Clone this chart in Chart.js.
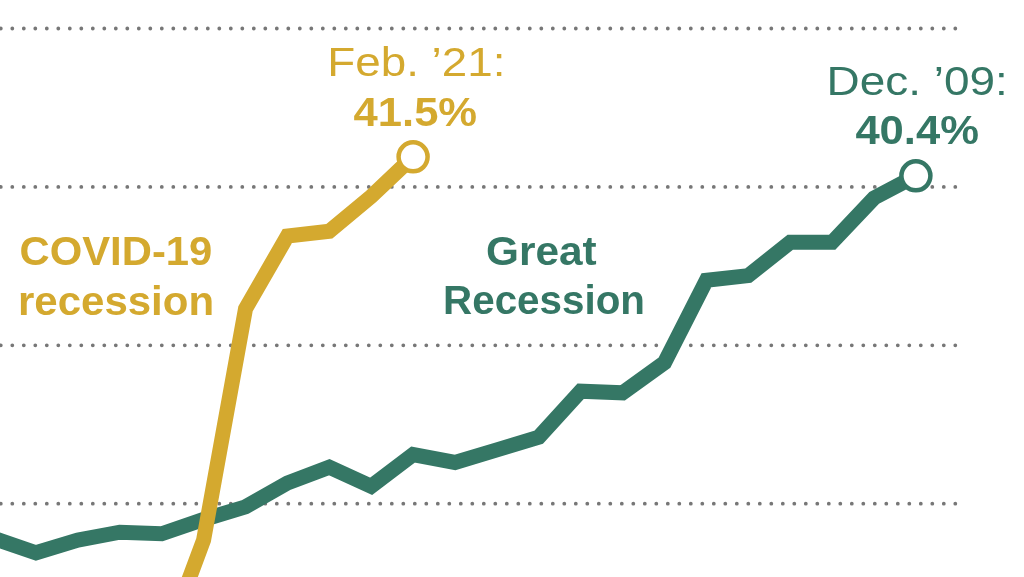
<!DOCTYPE html>
<html>
<head>
<meta charset="utf-8">
<script src="https://cdn.jsdelivr.net/npm/chart.js@4/dist/chart.umd.min.js"></script>
<style>
  html, body { margin: 0; padding: 0; background: #ffffff; }
  #wrap { width: 1024px; height: 577px; position: relative; overflow: hidden; }
</style>
</head>
<body>
<div id="wrap"><canvas id="c"></canvas></div>
<script>
// ---- Data (months since start of recession, % share) ----
const greatMonths = [2, 3, 4, 5, 6, 7, 8, 9, 10, 11, 12, 13, 14, 15, 16, 17, 18, 19, 20, 21, 22, 23, 24];
const greatValues = [17.8, 16.9, 17.7, 18.2, 18.1, 19.0, 19.8, 21.3, 22.3, 21.1, 23.1, 22.6, 23.4, 24.2, 27.1, 27.0, 28.9, 34.1, 34.4, 36.5, 36.5, 39.3, 40.7];
const covidMonths = [6, 7, 8, 9, 10, 11, 12];
const covidValues = [10.6, 17.7, 32.3, 36.9, 37.2, 39.4, 41.9];
const gridValues = [20, 30, 40, 50];
const seriesNames = ['COVID-19 recession', 'Great Recession'];
const endLabels = { covid: ['Feb. \u201921:', '41.5%'], great: ['Dec. \u201909:', '40.4%'] };

const GOLD = '#D4A92F';
const GREEN = '#357765';
const FONT = "'Liberation Sans', Arial, sans-serif";

function toPoints(xs, ys) { return xs.map((m, i) => ({ x: m, y: ys[i] })); }

function fitText(ctx, text, cx, baseline, font, width, color) {
  ctx.save();
  ctx.font = font;
  ctx.fillStyle = color;
  ctx.textAlign = 'left';
  ctx.textBaseline = 'alphabetic';
  const m = ctx.measureText(text);
  const l = m.actualBoundingBoxLeft, r = m.actualBoundingBoxRight;
  const ink = l + r;
  const s = width / ink;
  ctx.translate(cx, baseline);
  ctx.scale(s, 1);
  ctx.fillText(text, -(r - l) / 2, 0);
  ctx.restore();
}

const gridPlugin = {
  id: 'dotGrid',
  beforeDatasetsDraw(chart) {
    const { ctx, scales: { x, y }, chartArea } = chart;
    const xEnd = x.getPixelForValue(25);
    ctx.save();
    ctx.strokeStyle = '#777777';
    ctx.lineWidth = 3.8;
    ctx.lineCap = 'round';
    ctx.setLineDash([0, 11.5]);
    gridValues.forEach(v => {
      const py = y.getPixelForValue(v);
      ctx.beginPath();
      ctx.moveTo(chartArea.left + 0.8, py);
      ctx.lineTo(xEnd, py);
      ctx.stroke();
    });
    ctx.restore();
  }
};

const labelPlugin = {
  id: 'labels',
  afterDatasetsDraw(chart) {
    const { ctx, scales: { x, y } } = chart;
    const regular = '41px ' + FONT;
    const bold = 'bold 41px ' + FONT;
    // End-point callouts
    const gx = x.getPixelForValue(covidMonths[covidMonths.length - 1]);
    const gy = y.getPixelForValue(covidValues[covidValues.length - 1]);
    fitText(ctx, endLabels.covid[0], gx + 3, gy - 81, regular, 171, GOLD);
    fitText(ctx, endLabels.covid[1], gx + 2, gy - 31, bold, 123, GOLD);
    const ex = x.getPixelForValue(greatMonths[greatMonths.length - 1]);
    const ey = y.getPixelForValue(greatValues[greatValues.length - 1]);
    fitText(ctx, endLabels.great[0], ex + 1, ey - 81, regular, 174, GREEN);
    fitText(ctx, endLabels.great[1], ex + 1, ey - 32, bold, 123, GREEN);
    // Series names
    fitText(ctx, 'COVID-19', 116, 265, bold, 191, GOLD);
    fitText(ctx, 'recession', 116, 315, bold, 192, GOLD);
    fitText(ctx, 'Great', 542, 265, bold, 110, GREEN);
    fitText(ctx, 'Recession', 544, 314, bold, 198, GREEN);
  }
};

function lastPointRadius(ctx) {
  return ctx.dataIndex === ctx.dataset.data.length - 1 ? 14.5 : 0;
}

new Chart(document.getElementById('c'), {
  type: 'line',
  data: {
    datasets: [
      {
        label: seriesNames[0],
        data: toPoints(covidMonths, covidValues),
        borderColor: GOLD,
        borderWidth: 15,
        pointRadius: lastPointRadius,
        pointHoverRadius: lastPointRadius,
        pointBackgroundColor: '#ffffff',
        pointBorderColor: GOLD,
        pointBorderWidth: 4.5,
        tension: 0,
        fill: false
      },
      {
        label: seriesNames[1],
        data: toPoints(greatMonths, greatValues),
        borderColor: GREEN,
        borderWidth: 15,
        pointRadius: lastPointRadius,
        pointHoverRadius: lastPointRadius,
        pointBackgroundColor: '#ffffff',
        pointBorderColor: GREEN,
        pointBorderWidth: 4.5,
        tension: 0,
        fill: false
      }
    ]
  },
  options: {
    responsive: true,
    maintainAspectRatio: false,
    animation: false,
    events: [],
    layout: { padding: 0, autoPadding: false },
    plugins: { legend: { display: false }, tooltip: { enabled: false }, title: { display: false } },
    scales: {
      x: { type: 'linear', min: 2.141, max: 26.58, display: false },
      y: { type: 'linear', min: 15.37, max: 51.8, display: false }
    }
  },
  plugins: [gridPlugin, labelPlugin]
});
</script>
</body>
</html>
